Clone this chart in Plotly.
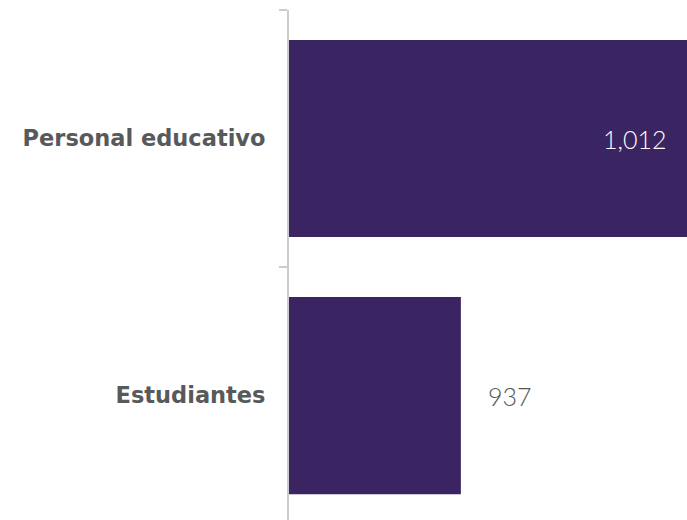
import plotly.graph_objects as go

categories = ["Estudiantes", "Personal educativo"]
values = [937, 1012]
value_labels = ["937", "1,012"]

x_min, x_max = 880, 1012
bar_color = "#3b2462"

fig = go.Figure()
fig.add_trace(go.Bar(
    x=values, y=categories, orientation="h",
    marker=dict(color=bar_color, line=dict(width=0)),
    width=0.767, hoverinfo="skip",
))

annotations = []
for cat, v, lab in zip(categories, values, value_labels):
    inside = (v - x_min) / (x_max - x_min) > 0.5
    annotations.append(dict(
        x=v, y=cat, xref="x", yref="y", text=lab, showarrow=False,
        xanchor="right" if inside else "left",
        xshift=-19 if inside else 25,
        font=dict(family="Lato", size=25, weight=300,
                  color="#ffffff" if inside else "#555555"),
    ))

fig.update_layout(
    width=687, height=520, autosize=False,
    margin=dict(l=289, r=0, t=10, b=0),
    plot_bgcolor="white", paper_bgcolor="white",
    showlegend=False,
    annotations=annotations,
    xaxis=dict(range=[x_min, x_max], visible=False, showgrid=False, zeroline=False),
    yaxis=dict(
        range=[-0.484, 1.5], showgrid=False, zeroline=False,
        showline=True, linecolor="#cccccc", linewidth=2,
        ticks="outside", tickson="boundaries", ticklen=8, tickwidth=2,
        tickcolor="#cccccc", ticklabelstandoff=17,
        tickfont=dict(family="DejaVu Sans", size=22.5, weight="bold", color="#58595b"),
    ),
)

post = (
    "document.body.style.margin='0';document.body.style.padding='0';"
    "document.documentElement.style.overflow='hidden';"
    "var gd=document.getElementById('{plot_id}');"
    "Plotly.relayout(gd,{width:687,height:520});"
)
fig.write_html("out.html", post_script=post,
               config={"responsive": False, "displayModeBar": False})
